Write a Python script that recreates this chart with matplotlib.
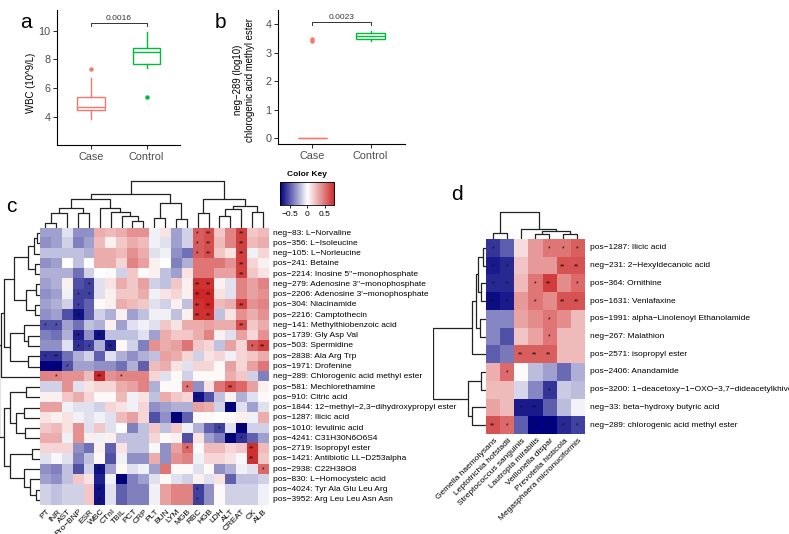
import numpy as np
import matplotlib
matplotlib.use("Agg")
import matplotlib.pyplot as plt
from matplotlib.colors import LinearSegmentedColormap
from matplotlib.collections import LineCollection

plt.rcParams['font.family'] = ['Liberation Sans', 'DejaVu Sans']

# ---------------- data ----------------
groups = ["Case", "Control"]
wbc_stats = [dict(med=4.7, q1=4.47, q3=5.4, whislo=3.82, whishi=6.68, fliers=[7.3]),
             dict(med=8.53, q1=7.67, q3=8.77, whislo=7.37, whishi=9.93, fliers=[5.4])]
wbc_p = "0.0016"
neg289_stats = [dict(med=0.0, q1=0.0, q3=0.0, whislo=0.0, whishi=0.0, fliers=[3.4, 3.48]),
                dict(med=3.59, q1=3.49, q3=3.68, whislo=3.43, whishi=3.78, fliers=[])]
neg289_p = "0.0023"

c_cols = ["PT", "INR", "AST", "Pro\u2212BNP", "ESR", "WBC", "CTnI", "TBIL", "PCT", "CRP", "PLT",
          "BUN", "LYM", "MGB", "RBC", "HGB", "LDH", "ALT", "CREAT", "CK", "ALB"]
c_rows = ["neg\u221283: L\u2212Norvaline", "pos\u2212356: L\u2212Isoleucine", "neg\u2212105: L\u2212Norleucine",
          "pos\u2212241: Betaine", "pos\u22122214: Inosine 5''\u2212monophosphate",
          "neg\u2212279: Adenosine 3''\u2212monophosphate", "pos\u22122206: Adenosine 3'\u2212monophosphate",
          "pos\u2212304: Niacinamide", "pos\u22122216: Camptothecin", "neg\u2212141: Methylthiobenzoic acid",
          "pos\u22121739: Gly Asp Val", "pos\u2212503: Spermidine", "pos\u22122838: Ala Arg Trp",
          "pos\u22121971: Drofenine", "neg\u2212289: Chlorogenic acid methyl ester",
          "pos\u2212581: Mechlorethamine", "pos\u2212910: Citric acid",
          "pos\u22121844: 12\u2212methyl\u22122,3\u2212dihydroxypropyl ester", "pos\u22121287: Ilicic acid",
          "pos\u22121010: levulinic acid", "pos\u22124241: C31H30N6O6S4", "pos\u22122719: Isopropyl ester",
          "pos\u22121421: Antibiotic LL\u2212D253alpha", "pos\u22122938: C22H38O8",
          "pos\u2212830: L\u2212Homocysteic acid", "pos\u22124024: Tyr Ala Glu Leu Arg",
          "pos\u22123952: Arg Leu Leu Asn Asn"]
c_vals = [
    [-0.3, -0.3, -0.1, -0.35, -0.35, 0.3, 0.25, 0.3, 0.4, 0.4, -0.05, 0.1, -0.3, -0.15, 0.6, 0.65, 0.2, 0.45, 0.7, 0.2, 0.25],
    [-0.35, -0.3, -0.15, -0.4, -0.3, 0.25, 0.05, 0.2, 0.3, 0.25, -0.05, -0.1, -0.3, -0.15, 0.6, 0.65, 0.25, 0.45, 0.7, 0.25, 0.3],
    [-0.2, -0.2, -0.2, -0.2, -0.25, 0.3, 0.3, 0.25, 0.4, 0.3, -0.1, -0.05, -0.35, -0.45, 0.6, 0.65, 0.2, 0.1, 0.7, -0.05, 0.15],
    [-0.35, -0.3, 0.0, -0.2, 0.0, 0.3, 0.3, 0.15, 0.45, 0.35, 0.05, 0.0, -0.4, -0.25, 0.5, 0.5, 0.5, 0.4, 0.7, 0.15, 0.05],
    [-0.25, -0.25, -0.25, -0.45, -0.15, 0.0, 0.02, -0.15, 0.2, 0.02, 0.05, -0.2, -0.3, 0.1, 0.5, 0.5, 0.35, 0.35, 0.7, 0.2, 0.1],
    [-0.3, -0.25, 0.05, -0.55, -0.6, -0.1, 0.1, 0.3, 0.2, 0.35, -0.15, -0.2, 0.2, 0.05, 0.75, 0.75, 0.05, -0.1, 0.45, 0.35, 0.45],
    [-0.35, -0.3, -0.05, -0.6, -0.6, -0.1, 0.05, 0.2, 0.2, 0.3, -0.05, 0.1, 0.15, 0.05, 0.8, 0.8, 0.1, -0.1, 0.45, 0.35, 0.4],
    [-0.3, -0.25, -0.15, -0.6, -0.5, 0.02, 0.05, 0.3, 0.25, 0.2, -0.1, -0.15, 0.05, -0.2, 0.75, 0.8, 0.25, 0.3, 0.7, 0.4, 0.45],
    [-0.35, -0.3, -0.55, -0.75, -0.5, -0.15, -0.25, 0.05, -0.3, -0.2, -0.05, -0.05, -0.2, 0.05, 0.75, 0.75, -0.2, 0.1, 0.4, 0.3, 0.4],
    [-0.55, -0.55, -0.3, -0.45, -0.2, -0.25, 0.05, -0.3, -0.1, -0.05, -0.1, 0.2, 0.1, 0.3, 0.3, 0.35, 0.3, 0.3, 0.65, 0.2, 0.3],
    [-0.4, -0.45, -0.25, -0.7, -0.35, -0.75, -0.2, -0.2, -0.2, -0.1, -0.3, 0.3, 0.2, 0.2, 0.3, 0.45, 0.05, -0.1, 0.35, 0.15, 0.4],
    [-0.35, -0.35, -0.1, -0.65, -0.6, -0.25, -0.7, 0.02, -0.15, -0.4, 0.4, 0.3, 0.35, 0.5, 0.2, 0.15, -0.2, 0.35, 0.15, 0.6, 0.7],
    [-0.65, -0.65, -0.45, -0.25, -0.15, -0.5, -0.1, -0.25, -0.35, -0.25, -0.2, 0.35, 0.3, 0.15, -0.15, 0.1, 0.15, -0.05, 0.15, 0.2, 0.3],
    [-0.85, -0.8, -0.55, -0.3, -0.3, -0.35, -0.35, -0.45, -0.25, -0.5, 0.25, 0.3, 0.1, -0.1, 0.15, 0.15, 0.02, 0.35, 0.15, 0.35, 0.5],
    [0.45, 0.45, 0.4, 0.4, 0.25, 0.8, 0.4, 0.45, 0.45, 0.45, 0.15, -0.1, 0.02, -0.15, 0.02, 0.02, 0.02, 0.3, 0.2, -0.15, -0.4],
    [-0.15, -0.15, 0.4, -0.1, 0.1, 0.15, 0.15, 0.3, 0.35, 0.45, -0.25, 0.02, 0.02, 0.5, -0.35, 0.1, 0.5, 0.65, 0.55, 0.35, 0.05],
    [0.05, 0.05, 0.2, 0.3, 0.15, 0.02, 0.02, 0.25, -0.05, 0.1, -0.2, 0.3, 0.2, 0.15, -0.75, -0.55, -0.2, 0.05, -0.25, -0.1, 0.02],
    [0.35, 0.35, -0.05, -0.1, -0.1, -0.15, 0.15, 0.1, -0.05, 0.15, -0.35, -0.3, -0.25, -0.25, 0.35, 0.3, -0.15, -0.85, -0.1, -0.3, -0.1],
    [0.1, 0.05, 0.1, -0.05, -0.1, -0.05, -0.1, 0.25, 0.35, 0.15, -0.55, -0.35, -0.8, -0.5, 0.02, 0.02, 0.0, 0.02, 0.05, -0.05, 0.3],
    [0.2, 0.25, 0.1, 0.4, -0.1, 0.2, -0.1, 0.0, -0.4, -0.2, 0.2, -0.2, 0.2, -0.05, -0.25, -0.5, -0.6, -0.1, -0.8, -0.15, -0.15],
    [0.3, 0.3, -0.05, 0.4, 0.05, -0.05, 0.05, -0.2, -0.2, -0.2, 0.15, 0.02, 0.05, -0.55, 0.1, -0.3, -0.4, -0.85, -0.65, -0.5, -0.3],
    [0.15, 0.15, 0.15, -0.35, -0.45, 0.05, -0.5, 0.1, -0.2, -0.2, -0.02, -0.35, 0.35, 0.55, 0.02, 0.25, 0.25, 0.15, 0.2, 0.75, 0.25],
    [-0.1, -0.02, -0.1, -0.4, -0.2, 0.02, -0.55, -0.05, -0.35, -0.35, 0.3, -0.35, 0.4, 0.45, -0.05, 0.15, 0.15, 0.1, -0.02, 0.75, 0.2],
    [-0.35, -0.4, -0.2, -0.55, -0.15, -0.75, -0.3, 0.02, -0.1, -0.05, -0.3, 0.5, 0.02, 0.02, -0.1, 0.02, -0.35, -0.25, -0.05, -0.1, 0.55],
    [-0.3, -0.35, -0.2, 0.2, 0.1, -0.7, -0.05, -0.8, -0.4, -0.3, -0.1, 0.02, -0.1, -0.15, 0.05, -0.1, 0.1, -0.5, -0.2, -0.2, -0.15],
    [-0.15, -0.2, -0.15, -0.15, 0.2, -0.75, -0.1, -0.5, -0.4, -0.4, -0.05, 0.35, 0.45, 0.45, -0.6, -0.35, 0.02, -0.15, -0.15, -0.15, -0.05],
    [-0.15, -0.2, -0.15, -0.15, 0.2, -0.75, -0.1, -0.5, -0.4, -0.4, -0.05, 0.35, 0.45, 0.45, -0.6, -0.35, 0.02, -0.15, -0.15, -0.15, -0.05],
]
# significance marks: (row, col, number of stars)
c_sig = [(0, 14, 1), (0, 15, 2), (0, 18, 2), (1, 14, 1), (1, 15, 2), (1, 18, 2),
         (2, 14, 1), (2, 15, 2), (2, 18, 2), (3, 18, 2), (4, 18, 2),
         (5, 4, 1), (5, 14, 2), (5, 15, 2), (6, 3, 1), (6, 4, 1), (6, 14, 2), (6, 15, 2),
         (7, 3, 1), (7, 14, 2), (7, 15, 2), (7, 18, 2), (8, 3, 2), (8, 14, 2), (8, 15, 2),
         (9, 0, 1), (9, 1, 1), (9, 18, 2), (10, 3, 2), (10, 5, 2),
         (11, 3, 1), (11, 4, 1), (11, 6, 2), (11, 19, 1), (11, 20, 2),
         (12, 0, 1), (12, 1, 2), (13, 0, 2), (13, 1, 2), (13, 2, 1),
         (14, 1, 1), (14, 5, 2), (14, 7, 1), (15, 13, 1), (15, 17, 2), (16, 14, 2),
         (17, 17, 2), (18, 12, 2), (19, 16, 1), (19, 18, 2), (20, 17, 2), (20, 18, 1),
         (21, 13, 1), (21, 19, 2), (22, 19, 2), (23, 5, 2), (23, 20, 1), (24, 7, 2),
         (25, 5, 2), (25, 14, 1), (26, 5, 2), (26, 14, 1)]
# dendrogram merge trees: [left, right, merge height]
c_col_tree = [[[[[[0, 1, 5], 2, 15], [3, 4, 15], 20], [5, [6, [7, [8, 9, 7], 12], 16], 20], 29],
               [[10, 11, 10], [12, 13, 9], 25], 34],
              [[14, 15, 15], [[[16, 17, 12], 18, 19], [19, 20, 16], 22], 29], 47]
c_row_tree = [[[[[[[0, 1, 3], 2, 6], [3, 4, 5], 12], [[5, 6, 4], [7, 8, 5], 14], 26],
                [[9, [10, 11, 12], 16], [12, 13, 12], 30], 36], 14, 39],
              [[[15, 16, 14], [[17, 18, 16], [19, 20, 15], 24], 30],
               [[21, 22, 8], [23, [24, [25, 26, 4], 10], 16], 30], 36], 41]

d_cols = ["Gemella haemolysans", "Leptotrichia hofstadii", "Streptococcus sanguinis",
          "Lautropia mirabilis", "Veillonella dispar", "Prevotella histicola",
          "Megasphaera micronuciformis"]
d_rows = ["pos\u22121287: Ilicic acid", "neg\u2212231: 2\u2212Hexyldecanoic acid", "pos\u2212364: Ornithine",
          "pos\u22121631: Venlafaxine", "pos\u22121991: alpha\u2212Linolenoyl Ethanolamide",
          "neg\u2212267: Malathion", "pos\u22122571: isopropyl ester", "pos\u22122406: Anandamide",
          "pos\u22123200: 1\u2212deacetoxy\u22121\u2212OXO\u22123,7\u2212dideacetylkhivorin",
          "neg\u221233: beta\u2212hydroxy butyric acid", "neg\u2212289: chlorogenic acid methyl ester"]
d_vals = [
    [-0.75, -0.6, 0.15, 0.45, 0.6, 0.6, 0.7],
    [-0.85, -0.8, 0.25, 0.45, 0.45, 0.75, 0.75],
    [-0.8, -0.8, 0.3, 0.6, 0.85, 0.5, 0.65],
    [-0.9, -0.85, 0.45, 0.6, 0.5, 0.75, 0.75],
    [-0.45, -0.45, 0.4, 0.5, 0.6, 0.5, 0.3],
    [-0.45, -0.65, 0.25, 0.4, 0.6, 0.3, 0.3],
    [-0.6, -0.5, 0.7, 0.7, 0.7, 0.3, 0.3],
    [0.35, 0.65, 0.02, -0.25, -0.35, -0.55, -0.3],
    [0.3, 0.3, -0.15, -0.45, -0.75, -0.2, -0.25],
    [0.4, 0.3, -0.85, -0.85, -0.6, -0.25, -0.05],
    [0.75, 0.65, -0.6, -0.95, -0.95, -0.8, -0.7],
]
d_sig = [(0, 0, 1), (0, 4, 1), (0, 5, 1), (0, 6, 1), (1, 0, 1), (1, 1, 1), (1, 5, 2), (1, 6, 2),
         (2, 0, 1), (2, 1, 1), (2, 3, 1), (2, 4, 2), (2, 6, 1),
         (3, 0, 2), (3, 1, 1), (3, 3, 1), (3, 5, 2), (3, 6, 2), (4, 4, 1), (5, 4, 1),
         (6, 2, 2), (6, 3, 2), (6, 4, 2), (7, 1, 1), (8, 4, 1), (9, 2, 1), (9, 3, 2),
         (10, 0, 2), (10, 1, 1), (10, 3, 2), (10, 4, 2), (10, 5, 1), (10, 6, 1)]
d_col_tree = [[0, 1, 6], [2, [[3, 4, 5], [5, 6, 5], 8], 10], 27]
d_row_tree = [[[[[0, 1, 3], [2, 3, 5], 8], [4, 5, 6], 10], 6, 14], [[7, 8, 5], [9, 10, 14], 18], 53]

key_ticks = [-0.5, 0, 0.5]

# ---------------- helpers ----------------
W, H = 789, 534
fig = plt.figure(figsize=(W / 100, H / 100), dpi=100)


def ax_px(x0, y0, x1, y1):
    return fig.add_axes([x0 / W, 1 - y1 / H, (x1 - x0) / W, (y1 - y0) / H])


def ftext(x, y, s, **kw):
    fig.text(x / W, 1 - y / H, s, **kw)


def dendro(node):
    if isinstance(node, int):
        return node + 0.5, 0.0, []
    l, r, h = node
    xl, hl, sl = dendro(l)
    xr, hr, sr = dendro(r)
    return (xl + xr) / 2, h, sl + sr + [[(xl, hl), (xl, h), (xr, h), (xr, hr)]]


cmap = LinearSegmentedColormap.from_list("nwf", ["#000080", "#FFFFFF", "#CD2626"])
case_col, ctrl_col = "#F8766D", "#00BA38"
tick_grey = "#4D4D4D"


def style_gg(ax):
    for s in ["top", "right"]:
        ax.spines[s].set_visible(False)
    for s in ["left", "bottom"]:
        ax.spines[s].set_linewidth(0.8)
    ax.tick_params(length=3, width=0.6, labelsize=7.8, labelcolor=tick_grey, pad=2)


def draw_box(ax, stats, cols):
    art = ax.bxp(stats, positions=[1, 2], widths=0.5, showcaps=False, patch_artist=True,
                 manage_ticks=False)
    for i, c in enumerate(cols):
        art['boxes'][i].set(facecolor="white", edgecolor=c, linewidth=1.0)
        art['medians'][i].set(color=c, linewidth=1.0)
        for w in art['whiskers'][2 * i:2 * i + 2]:
            w.set(color=c, linewidth=1.0)
        art['fliers'][i].set(marker='o', markerfacecolor=c, markeredgecolor=c, markersize=2.2)


def bracket(ax, y, dy, label):
    ax.plot([1, 1, 2, 2], [y - dy, y, y, y - dy], color="#333333", lw=0.7)
    ax.text(1.5, y + dy * 0.2, label, ha='center', va='bottom', fontsize=6, color="#333333")


# ---------------- panel a ----------------
axa = ax_px(57.3, 10, 180, 145)
draw_box(axa, wbc_stats, [case_col, ctrl_col])
axa.set_xlim(0.4, 2.6)
axa.set_ylim(2.03, 11.44)
axa.set_yticks([4, 6, 8, 10])
axa.set_xticks([1, 2])
axa.set_xticklabels(groups)
style_gg(axa)
bracket(axa, 10.56, 0.23, wbc_p)
axa.set_ylabel("WBC (10^9/L)", fontsize=6.9)
axa.yaxis.set_label_coords(-0.175, 0.463)
ftext(20, 22, "a", fontsize=15, va='center', ha='left')

# ---------------- panel b ----------------
axb = ax_px(278.3, 10, 404.6, 144)
draw_box(axb, neg289_stats, [case_col, ctrl_col])
axb.set_xlim(0.42, 2.58)
axb.set_ylim(-0.2, 4.5)
axb.set_yticks([0, 1, 2, 3, 4])
axb.set_xticks([1, 2])
axb.set_xticklabels(groups)
style_gg(axb)
bracket(axb, 4.09, 0.12, neg289_p)
axb.set_ylabel("neg\u2212289 (log10)\nchlorogenic acid methyl ester", fontsize=6.9, linespacing=1.3)
axb.yaxis.set_label_coords(-0.185, 0.478)
ftext(215, 22, "b", fontsize=15, va='center', ha='left')


# ---------------- heatmap helper ----------------
def heatmap(box, vals, sig, rows, cols, vlim, col_tree, row_tree, cden_box, rden_box,
            rlab_x, clab_y):
    x0, y0, x1, y1 = box
    m = np.array(vals)
    nr, nc = m.shape
    ax = ax_px(x0, y0, x1, y1)
    ax.imshow(m, cmap=cmap, vmin=-vlim, vmax=vlim, aspect='auto', interpolation='nearest',
              extent=(0, nc, nr, 0))
    for (r, c, n) in sig:
        ax.text(c + 0.5, r + 0.55, "*" * n, ha='center', va='center', fontsize=5, color="#111111")
    ax.set_xlim(0, nc)
    ax.set_ylim(nr, 0)
    ax.axis('off')
    ch = (y1 - y0) / nr
    cw = (x1 - x0) / nc
    for i, lab in enumerate(rows):
        ftext(rlab_x, y0 + ch * (i + 0.5), lab, fontsize=6, va='center', ha='left')
    for j, lab in enumerate(cols):
        ftext(x0 + cw * (j + 0.5) + 1, clab_y, lab, fontsize=6, va='top', ha='right',
              rotation=45, rotation_mode='anchor')
    # column dendrogram
    _, hroot, segs = dendro(col_tree)
    axc = ax_px(*cden_box)
    axc.add_collection(LineCollection(segs, colors="#222222", linewidths=0.9))
    axc.set_xlim(0, nc)
    axc.set_ylim(0, cden_box[3] - cden_box[1])
    axc.axis('off')
    # row dendrogram
    _, hroot, segs = dendro(row_tree)
    segs = [[(h, p) for (p, h) in s] for s in segs]
    axr = ax_px(*rden_box)
    axr.add_collection(LineCollection(segs, colors="#222222", linewidths=0.9))
    axr.set_xlim(rden_box[2] - rden_box[0], 0)
    axr.set_ylim(nr, 0)
    axr.axis('off')
    return ax


# ---------------- panel c ----------------
heatmap((40, 228, 268.3, 505), c_vals, c_sig, c_rows, c_cols, 0.8, c_col_tree, c_row_tree,
        (40, 178, 268.3, 228), (0, 228, 40, 505), 273, 508)
ftext(6, 207, "c", fontsize=15, va='center', ha='left')

# color key
axk = ax_px(280, 181.7, 334.3, 205)
grad = np.linspace(-0.78, 0.78, 256).reshape(1, -1)
axk.imshow(grad, cmap=cmap, vmin=-0.78, vmax=0.78, aspect='auto', extent=(-0.78, 0.78, 0, 1))
axk.set_xlim(-0.78, 0.78)
axk.set_yticks([])
axk.set_xticks(key_ticks)
axk.set_xticklabels(["\u22120.5", "0", "0.5"])
axk.tick_params(axis='x', length=2.5, width=0.6, labelsize=6, pad=1.5)
for s in axk.spines.values():
    s.set_linewidth(0.6)
ftext(307, 174, "Color Key", fontsize=6, fontweight='bold', ha='center', va='center')

# ---------------- panel d ----------------
heatmap((486, 239, 584, 434), d_vals, d_sig, d_rows, d_cols, 0.95, d_col_tree, d_row_tree,
        (486, 205, 584, 239), (433, 239, 486, 434), 590, 437)
ftext(451, 195, "d", fontsize=15, va='center', ha='left')

fig.savefig("out.png", dpi=100)
